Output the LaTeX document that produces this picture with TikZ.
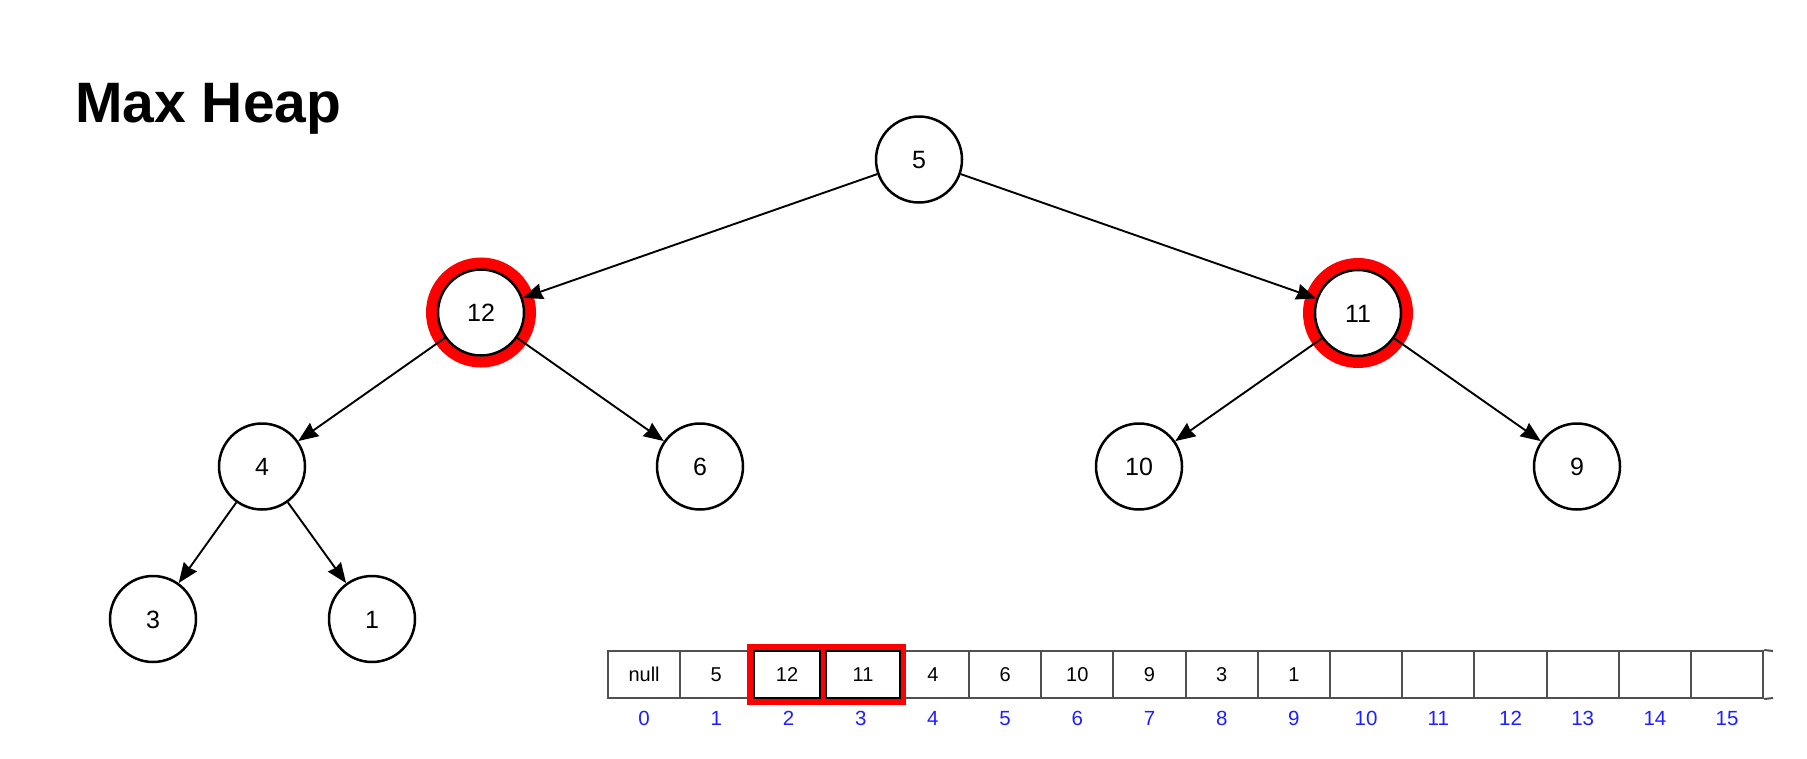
\documentclass[tikz,border=0pt]{standalone}
\usepackage{fontspec}
\setmainfont{Liberation Sans}
\usetikzlibrary{arrows.meta}
\definecolor{idxblue}{RGB}{30,30,255}
\definecolor{gridgray}{RGB}{80,80,80}
\begin{document}
\begin{tikzpicture}[x=1pt,y=-1pt,
  hnode/.style={circle,draw=black,line width=2.5pt,fill=white,minimum size=86pt,inner sep=0pt,text height=18pt,text depth=0pt,font=\fontsize{25}{25}\selectfont},
  ring/.style={circle,draw=red,line width=11pt,minimum size=99pt,inner sep=0pt},
  edge/.style={-{Stealth[length=20pt,width=16pt,inset=1.5pt]},line width=1.9pt},
  cell/.style={draw=gridgray,line width=2pt,minimum width=72.2pt,minimum height=47pt,inner sep=0pt,text height=14.5pt,text depth=0pt,font=\fontsize{20}{20}\selectfont},
  idx/.style={text=idxblue,font=\fontsize{20.5}{20.5}\selectfont,inner sep=0pt,text height=14.7pt,text depth=0pt}]
\useasboundingbox (0,0) rectangle (1807,758);

% title
\node[anchor=base west,inner sep=0pt,font=\fontsize{57}{57}\selectfont\bfseries] (title) at (75,122.7) {Max Heap};

% highlight rings
\node[ring] (r12) at (481,312.5) {};
\node[ring] (r11) at (1358,313) {};

% tree nodes
\node[hnode] (n5)  at (919,159.5) {5};
\node[hnode] (n12) at (481,312.5) {12};
\node[hnode] (n11) at (1358,313) {11};
\node[hnode] (n4)  at (262,466.5) {4};
\node[hnode] (n6)  at (700,466.5) {6};
\node[hnode] (n10) at (1139,466.5) {10};
\node[hnode] (n9)  at (1577,466.5) {9};
\node[hnode] (n3)  at (153,619) {3};
\node[hnode] (n1)  at (372,619) {1};

% edges
\draw[edge] (n5) -- (n12);
\draw[edge] (n5) -- (n11);
\draw[edge] (n12) -- (n4);
\draw[edge] (n12) -- (n6);
\draw[edge] (n11) -- (n10);
\draw[edge] (n11) -- (n9);
\draw[edge] (n4) -- (n3);
\draw[edge] (n4) -- (n1);

% array cells
\foreach \k/\v in {0/null,1/5,4/4,5/6,6/10,7/9,8/3,9/1,10/,11/,12/,13/,14/,15/} {
  \node[cell] (c\k) at ({608+72.2*(\k+0.5)},674.5) {\v};
}
% highlight box for cells 2 and 3
\fill[red] (747,644) rectangle (906,705);
\node[cell,fill=white,draw=black,minimum width=66pt] (c2) at (787,674.5) {12};
\node[cell,fill=white,draw=black,minimum width=74pt] (c3) at (863,674.5) {11};

% continuation of the array
\coordinate (endtop) at (1773,651);
\coordinate (endbot) at (1773,698);
\draw[gridgray,line width=2pt] (c15.north east) -- (endtop);
\draw[gridgray,line width=2pt] (c15.south east) -- (endbot);

% indices
\foreach \k in {0,...,15} {
  \node[idx] (i\k) at ({608+72.2*(\k+0.5)},718) {\k};
}
\end{tikzpicture}
\end{document}
